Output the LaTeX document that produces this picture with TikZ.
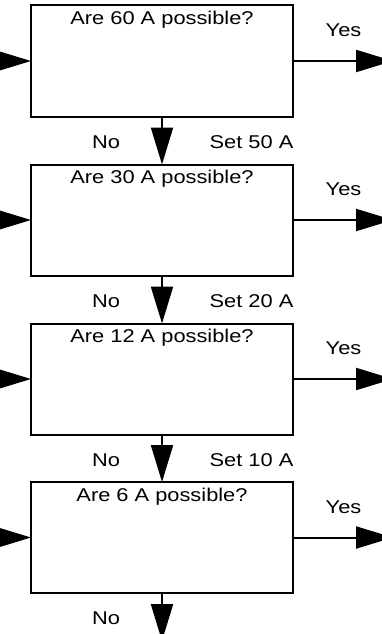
\documentclass[tikz,border=0pt]{standalone}
\usepackage{fontspec}
\setmainfont[FakeStretch=1.18]{Liberation Sans}
\usetikzlibrary{arrows.meta}
\begin{document}
\begin{tikzpicture}[x=1pt,y=-1pt,
  box/.style={draw, line width=2pt, rectangle, minimum width=262pt, minimum height=111pt, inner sep=0pt, outer sep=0pt},
  txt/.style={anchor=base, inner sep=0pt, font=\fontsize{18.5}{20}\selectfont},
  arr/.style={line width=2pt, -{Triangle[length=37pt, width=22pt]}}]
\useasboundingbox (0,0) rectangle (382,634);
\foreach \i/\y/\v in {1/61/60, 2/220/30, 3/379/12, 4/537.5/6}{
  \node[box] (b\i) at (162,\y) {};
  \node[txt] (t\i) at (162,\y-36.5) {Are \v\ A possible?};
  \node[txt] (y\i) at (343.5,\y-24.5) {Yes};
  \node[txt] (n\i) at (106,\y+87) {No};
  \coordinate (in\i) at (-20,\y);
  \coordinate (out\i) at (393,\y);
  \draw[arr] (in\i) -- (b\i.west);
  \draw[arr] (b\i.east) -- (out\i);
}
\node[txt] (s1) at (251.5,61+87) {Set 50 A};
\node[txt] (s2) at (251.5,220+87) {Set 20 A};
\node[txt] (s3) at (251.5,379+87) {Set 10 A};
\coordinate (end4) at (162,641);
\draw[arr] (b1.south) -- (b2.north);
\draw[arr] (b2.south) -- (b3.north);
\draw[arr] (b3.south) -- (b4.north);
\draw[arr] (b4.south) -- (end4);
\end{tikzpicture}
\end{document}
